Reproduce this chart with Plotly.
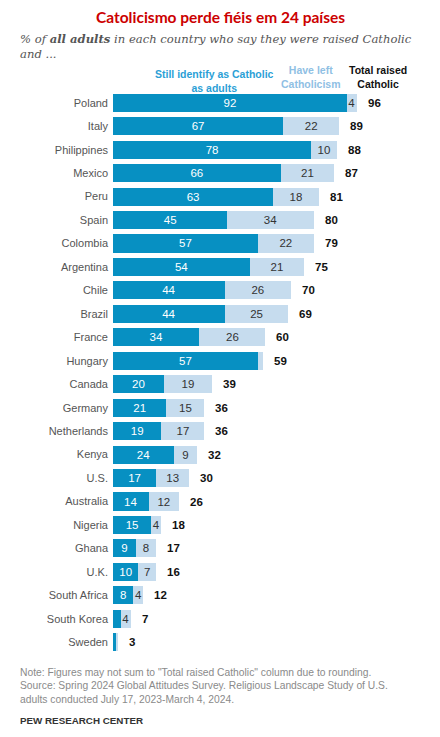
import plotly.graph_objects as go

# Data
countries = ["Poland", "Italy", "Philippines", "Mexico", "Peru", "Spain", "Colombia",
             "Argentina", "Chile", "Brazil", "France", "Hungary", "Canada", "Germany",
             "Netherlands", "Kenya", "U.S.", "Australia", "Nigeria", "Ghana", "U.K.",
             "South Africa", "South Korea", "Sweden"]
still_catholic = [92, 67, 78, 66, 63, 45, 57, 54, 44, 44, 34, 57, 20, 21, 19, 24, 17, 14, 15, 9, 10, 8, 3, 1]
left_catholic = [4, 22, 10, 21, 18, 34, 22, 21, 26, 25, 26, 2, 19, 15, 17, 9, 13, 12, 4, 8, 7, 4, 4, 1]
total_raised = [96, 89, 88, 87, 81, 80, 79, 75, 70, 69, 60, 59, 39, 36, 36, 32, 30, 26, 18, 17, 16, 12, 7, 3]

DARK = "#0790c2"
LIGHT = "#c6dcee"
FONT = "Liberation Sans"

# the page adds an 8px body margin, so the figure is laid out 8px smaller
PLOT_LEFT = 105   # px from figure left edge
PLOT_W = 327

# hide labels on segments too small to hold them
still_text = [str(v) if v >= 5 else "" for v in still_catholic]
left_text = [str(v) if v >= 4 else "" for v in left_catholic]

fig = go.Figure()
fig.add_trace(go.Bar(
    y=countries, x=still_catholic, orientation="h", name="Still identify",
    marker=dict(color=DARK, line=dict(width=0)),
    text=still_text, textposition="inside", insidetextanchor="middle",
    textfont=dict(color="white", size=11.5, family=FONT), width=0.77,
    hoverinfo="skip",
))
fig.add_trace(go.Bar(
    y=countries, x=left_catholic, orientation="h", name="Have left",
    marker=dict(color=LIGHT, line=dict(width=0)),
    text=left_text, textposition="inside", insidetextanchor="middle",
    textfont=dict(color="#333333", size=11.5, family=FONT), width=0.77,
    constraintext="none", hoverinfo="skip",
))

# totals to the right of each bar
for c, s, l, t in zip(countries, still_catholic, left_catholic, total_raised):
    fig.add_annotation(x=s + l, y=c, text=f"<b>{t}</b>", showarrow=False,
                       xanchor="left", xshift=9, font=dict(size=11.5, color="#111111", family=FONT))

left_edge = (10 - PLOT_LEFT) / PLOT_W

# title, subtitle, column headers, notes
fig.add_annotation(xref="paper", yref="paper", x=(212 - PLOT_LEFT) / PLOT_W, y=1.0, yshift=74,
                   text="<b>Catolicismo perde fiéis em 24 países</b>", showarrow=False, borderpad=0,
                   xanchor="center", yanchor="middle", font=dict(size=15.5, color="#cc0000", family="Lato"))
fig.add_annotation(xref="paper", yref="paper", x=left_edge, y=1.0, yshift=45, align="left",
                   text="<i>% of <b>all adults</b> in each country who say they were raised Catholic<br>and ...</i>",
                   showarrow=False, xanchor="left", yanchor="middle",
                   font=dict(size=11.6, color="#555555", family="DejaVu Serif"))
fig.add_annotation(xref="x", yref="paper", x=40, y=1.0, yshift=10, yanchor="middle",
                   text="<b>Still identify as Catholic<br>as adults</b>", showarrow=False,
                   font=dict(size=10.5, color="#2b9fd6", family=FONT))
fig.add_annotation(xref="x", yref="paper", x=78, y=1.0, yshift=14, yanchor="middle",
                   text="<b>Have left<br>Catholicism</b>", showarrow=False,
                   font=dict(size=10.5, color="#8fc0e4", family=FONT))
fig.add_annotation(xref="x", yref="paper", x=104.3, y=1.0, yshift=14, yanchor="middle",
                   text="<b>Total raised<br>Catholic</b>", showarrow=False,
                   font=dict(size=10.5, color="#111111", family=FONT))
fig.add_annotation(xref="paper", yref="paper", x=left_edge, y=0, yshift=-32, yanchor="middle",
                   xanchor="left", align="left", showarrow=False,
                   text="Note: Figures may not sum to \"Total raised Catholic\" column due to rounding.<br>"
                        "Source: Spring 2024 Global Attitudes Survey. Religious Landscape Study of U.S.<br>"
                        "adults conducted July 17, 2023-March 4, 2024.",
                   font=dict(size=10.3, color="#8a8a8a", family=FONT))
fig.add_annotation(xref="paper", yref="paper", x=left_edge, y=0, yshift=-66, yanchor="middle",
                   xanchor="left", showarrow=False, text="<b>PEW RESEARCH CENTER</b>",
                   font=dict(size=9.8, color="#333333", family=FONT))

fig.update_layout(
    width=432, height=729, barmode="stack", showlegend=False,
    margin=dict(l=PLOT_LEFT, r=0, t=83, b=83),
    plot_bgcolor="white", paper_bgcolor="white",
    xaxis=dict(range=[0, 128.7], visible=False, fixedrange=True),
    yaxis=dict(autorange="reversed", showgrid=False, ticks="", ticklabelstandoff=4,
               automargin=False,
               tickfont=dict(size=11, color="#555555", family=FONT), fixedrange=True),
    font=dict(family=FONT),
)

fig.write_html("out.html")
